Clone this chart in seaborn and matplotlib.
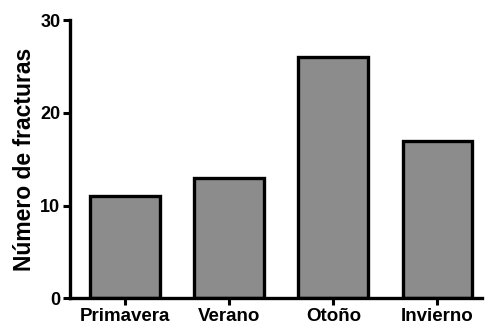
import pandas as pd
import matplotlib.pyplot as plt
import seaborn as sns

sns.set_theme(style="ticks")
plt.rcParams['font.family'] = ['Liberation Sans', 'DejaVu Sans']
plt.rcParams['text.color'] = 'black'
plt.rcParams['xtick.color'] = 'black'
plt.rcParams['ytick.color'] = 'black'
plt.rcParams['axes.labelcolor'] = 'black'

seasons = ['Primavera', 'Verano', 'Otoño', 'Invierno']
fractures = [11, 13, 26, 17]

df = pd.DataFrame({'season': seasons, 'count': fractures})

fig = plt.figure(figsize=(4.87, 3.30), dpi=100)
ax = fig.add_axes([0.144, 0.096, 0.846, 0.843])

sns.barplot(data=df, x='season', y='count', color='#8c8c8c', saturation=1,
            edgecolor='black', linewidth=2.4, width=0.67, ax=ax)

ax.set_ylim(0, 30)
ax.set_yticks([0, 10, 20, 30])
ax.set_xlim(-0.53, 3.43)
ax.set_xlabel('')
ax.set_ylabel('Número de fracturas', fontsize=16.5, fontweight='bold', labelpad=3)

for side in ['top', 'right']:
    ax.spines[side].set_visible(False)
for side in ['left', 'bottom']:
    ax.spines[side].set_linewidth(2.4)
    ax.spines[side].set_color('black')

ax.tick_params(axis='both', width=2.2, length=5, pad=2)
ax.tick_params(axis='y', labelsize=13)
ax.tick_params(axis='x', labelsize=13.5)
for lbl in ax.get_xticklabels() + ax.get_yticklabels():
    lbl.set_fontweight('bold')

fig.savefig('out.png', dpi=100)
